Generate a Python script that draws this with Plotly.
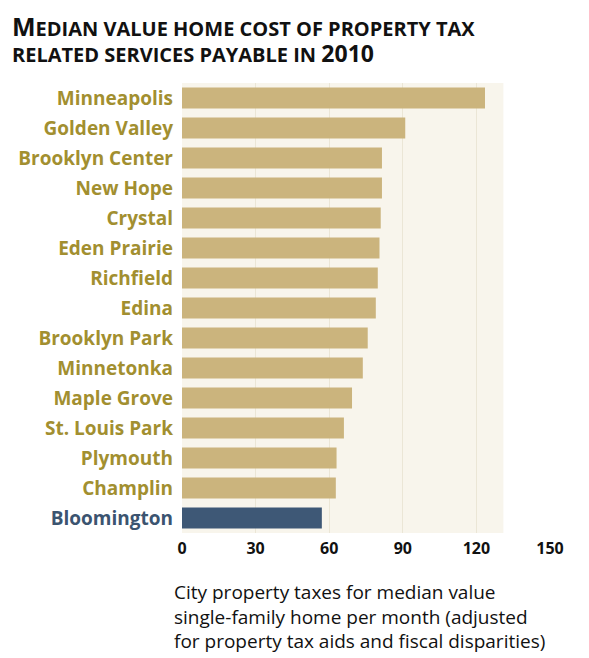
import plotly.graph_objects as go

cities = ["Minneapolis", "Golden Valley", "Brooklyn Center", "New Hope", "Crystal",
          "Eden Prairie", "Richfield", "Edina", "Brooklyn Park", "Minnetonka",
          "Maple Grove", "St. Louis Park", "Plymouth", "Champlin", "Bloomington"]
values = [123.5, 91, 81.5, 81.5, 81, 80.5, 79.8, 79, 75.7, 73.7, 69.3, 66, 63, 62.7, 57]
highlight = "Bloomington"
tick_values = [0, 30, 60, 90, 120, 150]
title_lines = [
    "<span style='font-size:25px'>M</span>EDIAN VALUE HOME COST OF PROPERTY TAX",
    "RELATED SERVICES PAYABLE IN <span style='font-size:23px'>2010</span>",
]
note_lines = [
    "City property taxes for median value",
    "single-family home per month (adjusted",
    "for property tax aids and fiscal disparities)",
]

TAN = "#cbb47d"
BLUE = "#3e5876"
GOLD_TXT = "#a28f30"
BLUE_TXT = "#3b5470"

bar_colors = [BLUE if c == highlight else TAN for c in cities]
ticktext = [f"<span style='color:{BLUE_TXT if c == highlight else GOLD_TXT}'>{c}</span>" for c in cities]

fig = go.Figure()
fig.add_trace(go.Bar(
    x=values, y=cities, orientation="h",
    marker=dict(color=bar_colors, line=dict(width=0)),
    width=0.7,
    hoverinfo="x+y",
))

annotations = [
    dict(
        text="<br>".join(title_lines), xref="paper", yref="paper", x=0, y=1,
        xshift=-172, yshift=44,
        xanchor="left", yanchor="middle", align="left", showarrow=False,
        font=dict(family="Open Sans", size=20, color="#111111", weight=700),
    ),
    dict(
        text="<br>".join(note_lines), xref="paper", yref="paper", x=0, y=0,
        xshift=-10, yshift=-44,
        xanchor="left", yanchor="top", align="left", showarrow=False,
        font=dict(family="Open Sans", size=19, color="#111111"),
    ),
]

fig.update_layout(
    width=589, height=658,
    margin=dict(l=182, r=39, t=83, b=125),
    paper_bgcolor="white",
    plot_bgcolor="white",
    showlegend=False,
    font=dict(family="Open Sans", color="#1a1a1a"),
    xaxis=dict(
        range=[0, 150],
        tickvals=tick_values,
        ticktext=[str(v) for v in tick_values],
        showgrid=True, gridcolor="#ebe6d6", gridwidth=1,
        zeroline=False, showline=False, ticks="",
        ticklabelstandoff=4,
        tickfont=dict(family="Open Sans", size=16, color="#111111", weight=700),
        fixedrange=True,
    ),
    yaxis=dict(
        autorange="reversed",
        tickvals=cities, ticktext=ticktext,
        showgrid=False, zeroline=False, showline=False, ticks="",
        ticklabelstandoff=8,
        tickfont=dict(family="Open Sans", size=19, weight=700),
        fixedrange=True,
    ),
    shapes=[dict(
        type="rect", xref="x", yref="paper", x0=0, x1=131, y0=0, y1=1,
        fillcolor="#f8f5ec", line=dict(width=0), layer="below",
    )],
    annotations=annotations,
)

fig.write_html("out.html")
